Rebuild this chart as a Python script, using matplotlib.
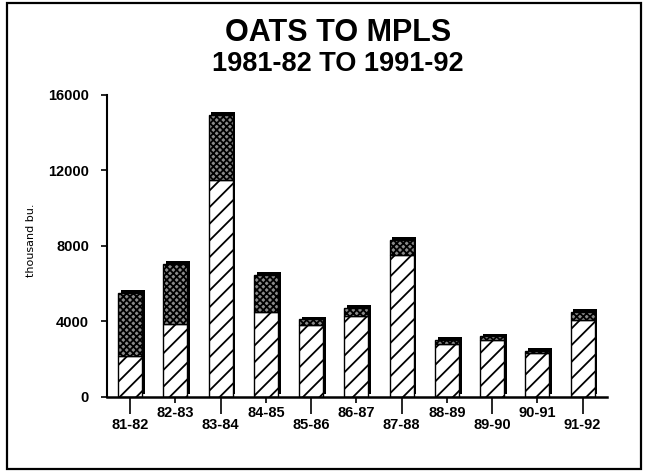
import matplotlib
matplotlib.use("Agg")
import matplotlib.pyplot as plt
import matplotlib.patheffects as pe
from matplotlib.patches import Rectangle
import numpy as np

plt.rcParams['font.family'] = ['Liberation Sans', 'DejaVu Sans']
plt.rcParams['hatch.linewidth'] = 1.3

seasons = ['81-82', '82-83', '83-84', '84-85', '85-86', '86-87',
           '87-88', '88-89', '89-90', '90-91', '91-92']
lower_vals = [2150, 3850, 11500, 4500, 3800, 4300, 7500, 2800, 3000, 2300, 4050]
upper_vals = [3350, 3200, 3450, 1950, 300, 400, 800, 200, 200, 150, 450]
yticks = [0, 4000, 8000, 12000, 16000]

W, H = 654, 471
fig = plt.figure(figsize=(W / 100, H / 100), dpi=100)

# outer frame
fig.patches.append(Rectangle((6.5 / W, 1 - 469 / H), (641 - 6.5) / W, (469 - 3) / H,
                             transform=fig.transFigure, fill=False,
                             edgecolor='black', linewidth=1.6))

ax = fig.add_axes([107 / W, 1 - 396.7 / H, 500 / W, (396.7 - 95) / H])
x = np.arange(len(seasons))
width = 0.53
shadow = [pe.SimplePatchShadow(offset=(2.0, 2.0), shadow_rgbFace='black', alpha=1.0), pe.Normal()]

b1 = ax.bar(x, lower_vals, width, color='white', edgecolor='black', linewidth=1.0,
            hatch='//', zorder=2)
b2 = ax.bar(x, upper_vals, width, bottom=lower_vals, color='#8a8a8a', edgecolor='black',
            linewidth=1.0, hatch='xxxxx', zorder=2)
for b in list(b1) + list(b2):
    b.set_path_effects(shadow)

ax.set_xlim(-0.51, 10.54)
ax.set_ylim(0, 16000)
ax.set_yticks(yticks)
ax.set_yticklabels([str(v) for v in yticks], fontweight='bold')
ax.tick_params(axis='y', direction='out', length=4, width=1.2, pad=9, labelsize=10.5)

# staggered x labels
major_pos = x[::2]
minor_pos = x[1::2]
ax.set_xticks(major_pos)
ax.set_xticklabels([seasons[i] for i in major_pos], fontweight='bold')
ax.set_xticks(minor_pos, minor=True)
ax.set_xticklabels([seasons[i] for i in minor_pos], minor=True, fontweight='bold')
ax.tick_params(axis='x', which='major', direction='out', length=12, width=1.2, pad=3, labelsize=10.5)
ax.tick_params(axis='x', which='minor', direction='out', length=4, width=1.2, pad=2.5, labelsize=10.5)

for s in ['top', 'right']:
    ax.spines[s].set_visible(False)
ax.spines['left'].set_linewidth(1.5)
ax.spines['bottom'].set_linewidth(1.8)

ax.set_ylabel('thousand bu.', fontsize=8, family=['DejaVu Sans'])
ax.yaxis.set_label_coords(-0.142, 0.52)

fig.text(338 / W, 1 - 33 / H, 'OATS TO MPLS', ha='center', va='center',
         fontsize=22, fontweight='bold')
fig.text(338 / W, 1 - 64 / H, '1981-82 TO 1991-92', ha='center', va='center',
         fontsize=19.5, fontweight='bold')

fig.savefig('out.png', dpi=100)
